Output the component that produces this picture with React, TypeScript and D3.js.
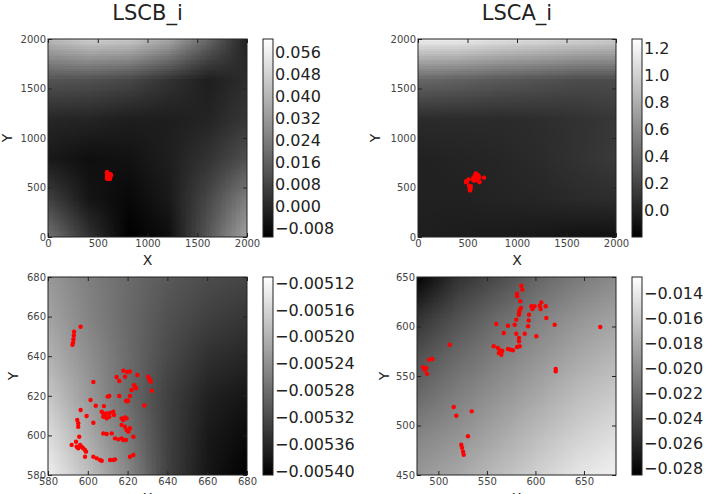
import { useEffect, useRef } from "react";
import * as d3 from "d3";

const WIDTH = 706;
const HEIGHT = 494;
const FONT = "DejaVu Sans, sans-serif";

// detected spots, left column (LSCB_i)
const spotsBX = [
  596.4, 593.1, 593.0, 592.8, 592.6, 592.3, 617.9, 619.8, 621.2, 614.5, 615.8, 618.7,
  624.9, 630.4, 631.0, 631.6, 632.1, 623.7, 623.2, 624.3, 622.0, 621.2, 619.2, 619.8,
  620.2, 615.8, 610.8, 610.0, 602.8, 601.4, 604.0, 608.1, 628.4, 607.0, 607.8, 608.6,
  609.5, 611.2, 612.8, 613.2, 610.8, 609.5, 607.8, 617.0, 618.7, 619.5, 617.8, 596.4,
  599.4, 602.8, 594.7, 595.2, 595.2, 617.0, 618.7, 619.5, 620.4, 621.2, 617.0, 617.8,
  619.2, 622.9, 607.8, 609.5, 612.0, 613.7, 615.3, 595.7, 591.9, 594.1, 594.4, 595.2,
  596.1, 596.9, 597.7, 598.6, 599.1, 598.6, 602.8, 604.5, 606.1, 607.0, 611.2, 612.8,
  613.7, 621.2, 622.9,
];
const spotsBY = [
  654.9, 652.4, 650.5, 648.6, 646.8, 645.8, 632.7, 632.0, 632.3, 629.5, 627.5, 629.6,
  630.5, 629.6, 628.3, 627.1, 622.6, 624.6, 625.4, 623.8, 622.9, 619.9, 617.5, 617.3,
  617.5, 619.9, 619.9, 619.6, 627.0, 617.9, 615.0, 614.8, 615.1, 612.0, 611.1, 610.3,
  611.1, 611.4, 612.0, 610.3, 609.4, 608.6, 609.4, 608.6, 609.1, 608.6, 607.8, 612.8,
  609.8, 606.4, 607.8, 606.1, 604.4, 605.3, 604.4, 602.7, 601.9, 603.6, 598.5, 597.7,
  597.7, 599.3, 601.0, 600.7, 601.0, 598.5, 598.0, 599.3, 595.2, 596.8, 594.3, 593.5,
  595.2, 594.3, 593.5, 592.6, 591.8, 589.2, 589.2, 588.4, 587.6, 587.2, 587.6, 587.6,
  587.9, 589.2, 590.1,
];

// detected spots, right column (LSCA_i)
const spotsAX = [
  585.5, 586.5, 581.0, 581.2, 584.4, 585.1, 583.6, 583.4, 583.0, 580.3, 578.6, 580.3,
  583.1, 583.1, 583.8, 589.0, 592.4, 593.0, 593.4, 595.8, 597.5, 599.0, 596.8, 604.4,
  606.1, 610.6, 605.4, 611.2, 600.9, 619.8, 666.8, 620.9, 620.9, 559.7, 571.7, 567.3,
  557.0, 561.3, 563.6, 562.3, 565.9, 564.9, 571.7, 574.4, 576.8, 581.0, 511.7, 484.2,
  487.6, 485.9, 488.3, 490.4, 493.8, 515.8, 518.5, 534.4, 530.5, 523.6, 524.4, 525.5,
  526.1,
];
const spotsAY = [
  641.2, 637.2, 633.1, 630.5, 625.5, 618.7, 616.4, 614.0, 611.9, 606.9, 601.8, 592.7,
  588.4, 585.0, 580.0, 592.7, 600.2, 606.0, 611.9, 620.4, 619.0, 620.4, 617.7, 621.0,
  624.4, 620.4, 617.7, 608.6, 590.1, 601.8, 599.5, 557.1, 554.7, 602.5, 600.8, 593.4,
  580.0, 578.4, 576.0, 573.3, 575.2, 571.5, 577.3, 576.6, 576.0, 579.3, 581.6, 558.8,
  558.0, 556.4, 552.3, 566.5, 567.2, 518.7, 509.9, 514.3, 489.1, 480.6, 477.5, 473.5,
  470.5,
];

// field samples on a 6x6 grid, first row is the top of the map
const lscbWide = [
  [0.0405, 0.0463, 0.0449, 0.0355, 0.0175, -0.0027],
  [0.0125, 0.0117, 0.0089, 0.0031, -0.0027, 0.0017],
  [-0.0005, -0.0012, -0.0027, -0.0027, -0.0012, 0.0045],
  [-0.0041, -0.007, -0.0063, -0.0027, 0.0031, 0.0117],
  [0.0067, -0.0055, -0.0091, -0.0041, 0.0089, 0.0247],
  [0.0211, 0.0031, -0.0113, -0.0077, 0.0139, 0.0355],
];
const lscaWide = [
  [1.16, 1.15, 1.09, 1.05, 1.0, 0.97],
  [0.39, 0.36, 0.31, 0.28, 0.24, 0.24],
  [0.05, 0.05, 0.05, 0.06, 0.09, 0.12],
  [-0.01, 0.005, 0.02, 0.05, 0.09, 0.14],
  [-0.01, -0.01, 0.005, 0.02, 0.05, 0.06],
  [-0.02, -0.04, -0.05, -0.07, -0.1, -0.11],
];
const lscbZoom = [
  [-0.005229, -0.005259, -0.005282, -0.005303, -0.005318, -0.005326],
  [-0.005217, -0.005253, -0.005285, -0.005312, -0.005332, -0.005344],
  [-0.0052, -0.005241, -0.005282, -0.005321, -0.00535, -0.005362],
  [-0.005176, -0.005229, -0.005282, -0.005332, -0.005368, -0.005382],
  [-0.005152, -0.005208, -0.005267, -0.005332, -0.005377, -0.005394],
  [-0.005129, -0.005185, -0.00525, -0.005332, -0.005382, -0.005406],
];
const lscaZoom = [
  [-0.02824, -0.02539, -0.02381, -0.02222, -0.02096, -0.01985],
  [-0.02539, -0.02349, -0.02191, -0.02064, -0.01937, -0.01842],
  [-0.02349, -0.02191, -0.02064, -0.01937, -0.01811, -0.01716],
  [-0.02191, -0.02064, -0.01937, -0.01811, -0.01684, -0.01589],
  [-0.02032, -0.01937, -0.01811, -0.01684, -0.01557, -0.01462],
  [-0.01906, -0.01811, -0.01684, -0.01557, -0.0143, -0.01351],
];

// colour limits
const lscbWideRange = [-0.0113, 0.0607];
const lscaWideRange = [-0.2, 1.267];
const lscbZoomRange = [-0.005406, -0.005111];
const lscaZoomRange = [-0.02856, -0.01272];

// colorbar ticks
const lscbWideTicks = [-0.008, 0, 0.008, 0.016, 0.024, 0.032, 0.04, 0.048, 0.056];
const lscaWideTicks = [0, 0.2, 0.4, 0.6, 0.8, 1.0, 1.2];
const lscbZoomTicks = [-0.0054, -0.00536, -0.00532, -0.00528, -0.00524, -0.0052, -0.00516, -0.00512];
const lscaZoomTicks = [-0.028, -0.026, -0.024, -0.022, -0.02, -0.018, -0.016, -0.014];

// axis ticks
const wideTicks = [0, 500, 1000, 1500, 2000];
const bZoomTicks = [580, 600, 620, 640, 660, 680];
const aZoomXTicks = [500, 550, 600, 650];
const aZoomYTicks = [450, 500, 550, 600, 650];

const panels = [
  {
    title: "LSCB_i", left: 48, top: 39, w: 199, h: 198, yLabelOff: 41,
    xDomain: [0, 2000], yDomain: [0, 2000], xTicks: wideTicks, yTicks: wideTicks,
    grid: lscbWide, range: lscbWideRange, cbTicks: lscbWideTicks, cbFormat: ".3f",
    xs: spotsBX, ys: spotsBY,
  },
  {
    title: "LSCA_i", left: 418, top: 39, w: 198, h: 198, yLabelOff: 43,
    xDomain: [0, 2000], yDomain: [0, 2000], xTicks: wideTicks, yTicks: wideTicks,
    grid: lscaWide, range: lscaWideRange, cbTicks: lscaWideTicks, cbFormat: ".1f",
    xs: spotsAX, ys: spotsAY,
  },
  {
    title: "", left: 48, top: 277, w: 199, h: 198, yLabelOff: 35,
    xDomain: [580, 680], yDomain: [580, 680], xTicks: bZoomTicks, yTicks: bZoomTicks,
    grid: lscbZoom, range: lscbZoomRange, cbTicks: lscbZoomTicks, cbFormat: ".5f",
    xs: spotsBX, ys: spotsBY,
  },
  {
    title: "", left: 417, top: 277, w: 199, h: 198, yLabelOff: 33,
    xDomain: [478, 683], yDomain: [450, 650], xTicks: aZoomXTicks, yTicks: aZoomYTicks,
    grid: lscaZoom, range: lscaZoomRange, cbTicks: lscaZoomTicks, cbFormat: ".3f",
    xs: spotsAX, ys: spotsAY,
  },
];

type Panel = (typeof panels)[number];

function fieldImage(grid: number[][], color: (v: number) => string) {
  const rows = grid.length;
  const cols = grid[0].length;
  const canvas = document.createElement("canvas");
  canvas.width = cols;
  canvas.height = rows;
  const ctx = canvas.getContext("2d")!;
  const img = ctx.createImageData(cols, rows);
  grid.forEach((row, r) =>
    row.forEach((v, c) => {
      const rgb = d3.rgb(color(v));
      const k = (r * cols + c) * 4;
      img.data[k] = rgb.r;
      img.data[k + 1] = rgb.g;
      img.data[k + 2] = rgb.b;
      img.data[k + 3] = 255;
    })
  );
  ctx.putImageData(img, 0, 0);
  return canvas.toDataURL();
}

function drawPanel(svg: d3.Selection<SVGSVGElement, unknown, null, undefined>, p: Panel, i: number) {
  const defs = svg.append("defs");
  const g = svg.append("g").attr("transform", `translate(${p.left},${p.top})`);

  const x = d3.scaleLinear().domain(p.xDomain).range([0, p.w]);
  const y = d3.scaleLinear().domain(p.yDomain).range([p.h, 0]);
  const color = d3
    .scaleLinear<string>()
    .domain(p.range)
    .range(["#000000", "#ffffff"])
    .clamp(true);

  defs.append("clipPath").attr("id", `plot-clip-${i}`)
    .append("rect").attr("width", p.w).attr("height", p.h);

  const plot = g.append("g").attr("clip-path", `url(#plot-clip-${i})`);

  // heat map, grid nodes sit on the plot edges
  const rows = p.grid.length;
  const cols = p.grid[0].length;
  const x0 = x(p.xDomain[0]);
  const x1 = x(p.xDomain[1]);
  const cw = (x1 - x0) / (cols - 1);
  const ch = p.h / (rows - 1);
  plot.append("image")
    .attr("href", fieldImage(p.grid, color))
    .attr("x", x0 - cw / 2)
    .attr("y", -ch / 2)
    .attr("width", x1 - x0 + cw)
    .attr("height", p.h + ch)
    .attr("preserveAspectRatio", "none");

  // spots
  plot.selectAll("circle")
    .data(d3.range(p.xs.length))
    .enter()
    .append("circle")
    .attr("cx", (d) => x(p.xs[d]))
    .attr("cy", (d) => y(p.ys[d]))
    .attr("r", 2.2)
    .attr("fill", "#ff0000");

  // axes, ticks point inward on all four sides
  const bottom = g.append("g").attr("transform", `translate(0,${p.h})`)
    .call(d3.axisBottom(x).tickValues(p.xTicks).tickSizeInner(-4).tickSizeOuter(0).tickPadding(3).tickFormat(d3.format("d")));
  const left = g.append("g")
    .call(d3.axisLeft(y).tickValues(p.yTicks).tickSizeInner(-4).tickSizeOuter(0).tickPadding(2).tickFormat(d3.format("d")));
  g.append("g")
    .call(d3.axisTop(x).tickValues(p.xTicks).tickSizeInner(-4).tickSizeOuter(0).tickFormat(() => ""));
  g.append("g").attr("transform", `translate(${p.w},0)`)
    .call(d3.axisRight(y).tickValues(p.yTicks).tickSizeInner(-4).tickSizeOuter(0).tickFormat(() => ""));

  g.selectAll(".domain").remove();
  g.selectAll(".tick line").attr("stroke", "#222");
  [bottom, left].forEach((a) =>
    a.attr("font-family", FONT).attr("font-size", 10).selectAll("text").attr("fill", "#444")
  );

  g.append("rect")
    .attr("width", p.w)
    .attr("height", p.h)
    .attr("fill", "none")
    .attr("stroke", "#222")
    .attr("stroke-width", 1);

  // axis labels
  g.append("text")
    .attr("x", p.w / 2)
    .attr("y", p.h + 28)
    .attr("text-anchor", "middle")
    .attr("font-family", FONT)
    .attr("font-size", 14)
    .attr("fill", "#222")
    .text("X");
  g.append("text")
    .attr("transform", `translate(${-p.yLabelOff},${p.h / 2}) rotate(-90)`)
    .attr("text-anchor", "middle")
    .attr("dy", "0.36em")
    .attr("font-family", FONT)
    .attr("font-size", 14)
    .attr("fill", "#222")
    .text("Y");

  if (p.title) {
    svg.append("text")
      .attr("x", p.left + p.w / 2)
      .attr("y", 20)
      .attr("text-anchor", "middle")
      .attr("font-family", FONT)
      .attr("font-size", 21)
      .attr("fill", "#222")
      .text(p.title);
  }

  // colorbar
  const cy = d3.scaleLinear().domain(p.range).range([p.h, 0]);
  const grad = defs.append("linearGradient")
    .attr("id", `cb-grad-${i}`)
    .attr("x1", 0).attr("y1", 1).attr("x2", 0).attr("y2", 0);
  d3.range(11).forEach((k) => {
    const v = p.range[0] + ((p.range[1] - p.range[0]) * k) / 10;
    grad.append("stop").attr("offset", k / 10).attr("stop-color", color(v));
  });

  const cb = svg.append("g").attr("transform", `translate(${p.left + p.w + 16},${p.top})`);
  cb.append("rect")
    .attr("width", 10)
    .attr("height", p.h)
    .attr("fill", `url(#cb-grad-${i})`)
    .attr("stroke", "#222")
    .attr("stroke-width", 1);

  const cbAxis = cb.append("g").attr("transform", "translate(10,0)")
    .call(d3.axisRight(cy).tickValues(p.cbTicks).tickSize(0).tickPadding(2).tickFormat(d3.format(p.cbFormat)));
  cbAxis.select(".domain").remove();
  cbAxis.attr("font-family", FONT).attr("font-size", 16).selectAll("text").attr("fill", "#222");
}

export default function App() {
  const svgRef = useRef<SVGSVGElement>(null);

  useEffect(() => {
    if (!svgRef.current) return;
    const svg = d3.select(svgRef.current);
    svg.selectAll("*").remove();
    panels.forEach((p, i) => drawPanel(svg, p, i));
  }, []);

  return (
    <svg
      ref={svgRef}
      width={WIDTH}
      height={HEIGHT}
      style={{ position: "absolute", left: 0, top: 0, background: "#fff" }}
    />
  );
}
